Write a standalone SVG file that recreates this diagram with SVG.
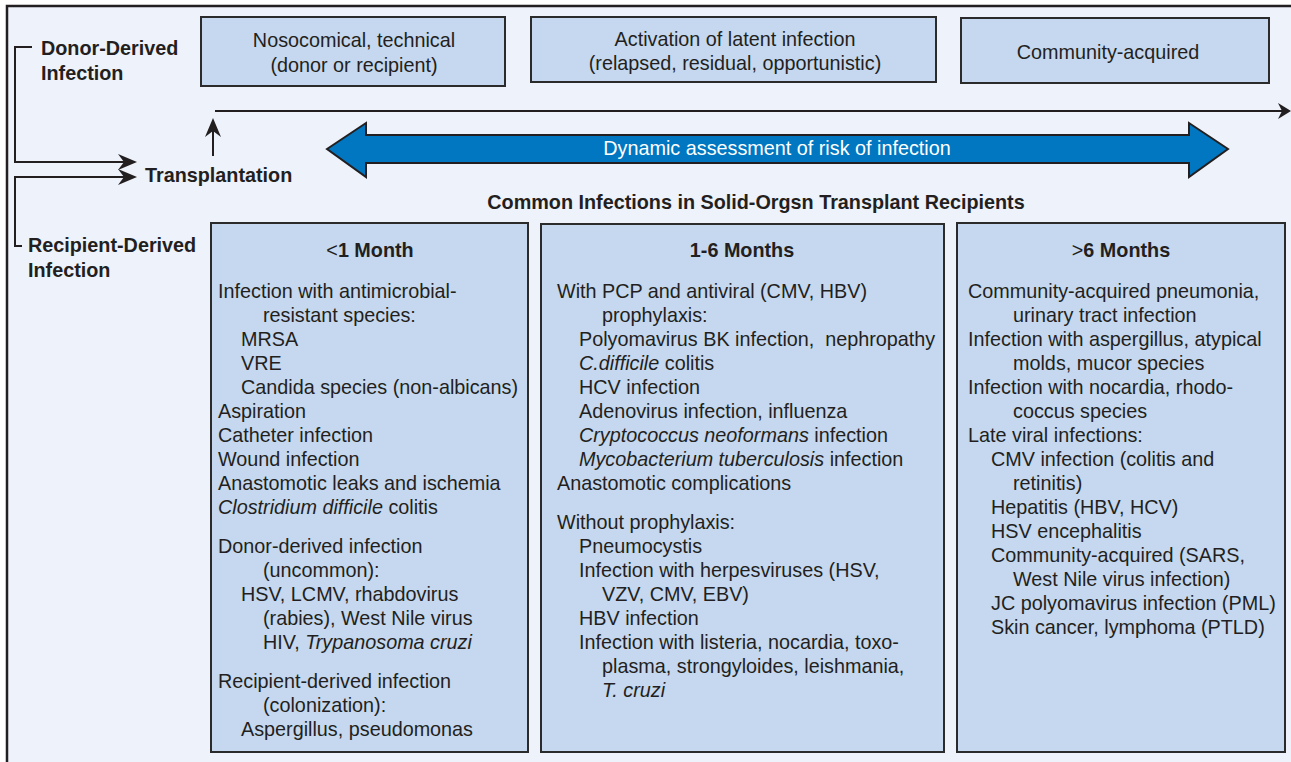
<svg xmlns="http://www.w3.org/2000/svg" width="1291" height="762" viewBox="0 0 1291 762">
<style>
  text { font-family: "Liberation Sans", Arial, Helvetica, sans-serif; fill: #231f20; font-size: 19.8px; }
  .b { font-weight: bold; }
  .c { text-anchor: middle; }
  .i { font-style: italic; }
  .w { fill: #ffffff; }
  .box { fill: #c5d8ef; stroke: #2b2b2b; stroke-width: 2; }
  .ln { fill: none; stroke: #231f20; stroke-width: 2; }
</style>
<defs>
  <marker id="big" markerUnits="userSpaceOnUse" markerWidth="20" markerHeight="17" refX="8" refY="8" orient="auto" overflow="visible">
    <path d="M0,0 L19,8 L0,16 L6,8 Z" fill="#231f20"/>
  </marker>
  <marker id="small" markerUnits="userSpaceOnUse" markerWidth="14" markerHeight="17" refX="6" refY="8" orient="auto" overflow="visible">
    <path d="M0,0 L13,8 L0,16 L4,8 Z" fill="#231f20"/>
  </marker>
</defs>
<rect x="0" y="0" width="1291" height="762" fill="#ffffff"/>
<rect x="7" y="6" width="1284" height="756" fill="#eef2fa"/>
<path d="M7,762 L7,6 L1291,6" fill="none" stroke="#231f20" stroke-width="2.5"/>

<g id="connectors">
  <path class="ln" d="M32,47 L15,47 L15,162 L126,162" marker-end="url(#big)"/>
  <path class="ln" d="M22,246 L15,246 L15,177 L126,177" marker-end="url(#big)"/>
  <path class="ln" d="M213,156 L213,129" marker-end="url(#big)"/>
  <path class="ln" d="M215,111 L1284,111" stroke-width="1.6" marker-end="url(#small)"/>
</g>

<g id="donor-label">
  <text class="b" x="41" y="55">Donor-Derived</text>
  <text class="b" x="41" y="80">Infection</text>
</g>
<g id="recipient-label">
  <text class="b" x="28" y="252">Recipient-Derived</text>
  <text class="b" x="28" y="277">Infection</text>
</g>
<g id="transplantation">
  <text class="b" x="145" y="182">Transplantation</text>
</g>

<g id="phase-nosocomial">
  <rect class="box" x="201" y="17" width="304" height="69"/>
  <text class="c" x="354" y="47">Nosocomical, technical</text>
  <text class="c" x="354" y="72">(donor or recipient)</text>
</g>
<g id="phase-latent">
  <rect class="box" x="531" y="17" width="405" height="65"/>
  <text class="c" x="735" y="46">Activation of latent infection</text>
  <text class="c" x="735" y="70">(relapsed, residual, opportunistic)</text>
</g>
<g id="phase-community">
  <rect class="box" x="961" y="18" width="308" height="65"/>
  <text class="c" x="1108" y="59">Community-acquired</text>
</g>

<g id="risk-arrow">
  <polygon points="327,149 366,123 366,135 1189,135 1189,123 1228,149 1189,177 1189,163 366,163 366,177" fill="#0077c0" stroke="#231f20" stroke-width="2" stroke-linejoin="miter"/>
  <text class="c w" x="777" y="155">Dynamic assessment of risk of infection</text>
</g>

<g id="title">
  <text class="b c" x="756" y="209">Common Infections in Solid-Orgsn Transplant Recipients</text>
</g>

<g id="col-lt1">
  <rect class="box" x="211" y="223" width="317" height="529"/>
  <text class="b c" x="370" y="257"><tspan font-weight="normal">&lt;</tspan>1 Month</text>
  <text x="218" y="298">Infection with antimicrobial-</text>
  <text x="263" y="322">resistant species:</text>
  <text x="241" y="346">MRSA</text>
  <text x="241" y="370">VRE</text>
  <text x="241" y="394">Candida species (non-albicans)</text>
  <text x="218" y="418">Aspiration</text>
  <text x="218" y="442">Catheter infection</text>
  <text x="218" y="466">Wound infection</text>
  <text x="218" y="490">Anastomotic leaks and ischemia</text>
  <text x="218" y="514"><tspan class="i">Clostridium difficile</tspan> colitis</text>
  <text x="218" y="553">Donor-derived infection</text>
  <text x="263" y="577">(uncommon):</text>
  <text x="241" y="601">HSV, LCMV, rhabdovirus</text>
  <text x="263" y="625">(rabies), West Nile virus</text>
  <text x="263" y="649">HIV, <tspan class="i">Trypanosoma cruzi</tspan></text>
  <text x="218" y="688">Recipient-derived infection</text>
  <text x="263" y="712">(colonization):</text>
  <text x="241" y="736">Aspergillus, pseudomonas</text>
</g>

<g id="col-1to6">
  <rect class="box" x="541" y="224" width="403" height="528"/>
  <text class="b c" x="742" y="257">1-6 Months</text>
  <text x="557" y="298">With PCP and antiviral (CMV, HBV)</text>
  <text x="602" y="322">prophylaxis:</text>
  <text x="579" y="346">Polyomavirus BK infection,&#160; nephropathy</text>
  <text x="579" y="370"><tspan class="i">C.difficile</tspan> colitis</text>
  <text x="579" y="394">HCV infection</text>
  <text x="579" y="418">Adenovirus infection, influenza</text>
  <text x="579" y="442"><tspan class="i">Cryptococcus neoformans</tspan> infection</text>
  <text x="579" y="466"><tspan class="i">Mycobacterium tuberculosis</tspan> infection</text>
  <text x="557" y="490">Anastomotic complications</text>
  <text x="557" y="529">Without prophylaxis:</text>
  <text x="579" y="553">Pneumocystis</text>
  <text x="579" y="577">Infection with herpesviruses (HSV,</text>
  <text x="602" y="601">VZV, CMV, EBV)</text>
  <text x="579" y="625">HBV infection</text>
  <text x="579" y="649">Infection with listeria, nocardia, toxo-</text>
  <text x="602" y="673">plasma, strongyloides, leishmania,</text>
  <text x="602" y="697" class="i">T. cruzi</text>
</g>

<g id="col-gt6">
  <rect class="box" x="957" y="223" width="328" height="529"/>
  <text class="b c" x="1121" y="257"><tspan font-weight="normal">&gt;</tspan>6 Months</text>
  <text x="968" y="298">Community-acquired pneumonia,</text>
  <text x="1013" y="322">urinary tract infection</text>
  <text x="968" y="346">Infection with aspergillus, atypical</text>
  <text x="1013" y="370">molds, mucor species</text>
  <text x="968" y="394">Infection with nocardia, rhodo-</text>
  <text x="1013" y="418">coccus species</text>
  <text x="968" y="442">Late viral infections:</text>
  <text x="991" y="466">CMV infection (colitis and</text>
  <text x="1013" y="490">retinitis)</text>
  <text x="991" y="514">Hepatitis (HBV, HCV)</text>
  <text x="991" y="538">HSV encephalitis</text>
  <text x="991" y="562">Community-acquired (SARS,</text>
  <text x="1013" y="586">West Nile virus infection)</text>
  <text x="991" y="610">JC polyomavirus infection (PML)</text>
  <text x="991" y="634">Skin cancer, lymphoma (PTLD)</text>
</g>
</svg>
